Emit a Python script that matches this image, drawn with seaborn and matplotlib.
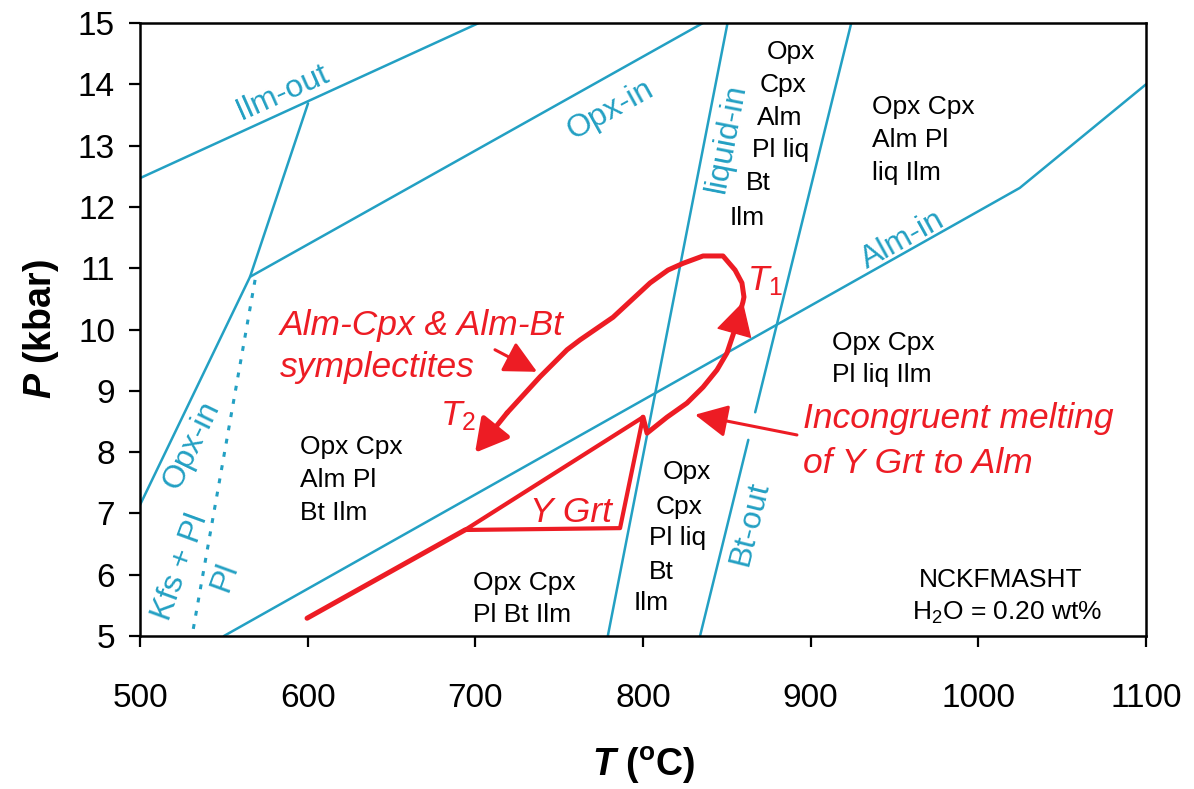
import matplotlib
matplotlib.use('Agg')
import matplotlib.pyplot as plt
import seaborn as sns

BLUE = '#23a0c3'
RED = '#ed1c24'

# phase boundaries, T in degC and P in kbar
ilm_out_T = [500, 702]
ilm_out_P = [12.47, 15.0]
opx_in_up_T = [565.6, 835.7]
opx_in_up_P = [10.86, 15.0]
opx_in_left_T = [500, 565.6, 600.2]
opx_in_left_P = [7.14, 10.86, 13.69]
kfs_T = [568.6, 531.0]
kfs_P = [10.81, 5.0]
alm_in_T = [550, 1024.7, 1100]
alm_in_P = [5.0, 12.31, 14.0]
liq_in_T = [779, 850.4]
liq_in_P = [5.0, 15.0]
bt_out_lo_T = [834, 862.8]
bt_out_lo_P = [5.0, 8.2]
bt_out_hi_T = [866.9, 924.2]
bt_out_hi_P = [8.65, 15.0]

# P-T path
pro_T = [599.6, 693.8]
pro_P = [5.29, 6.73]
ygrt_T = [693.8, 786.3, 800.0, 693.8]
ygrt_P = [6.73, 6.76, 8.57, 6.73]
loop_T = [800.0, 802.4, 814.3, 826.2, 835.8, 844.1, 850.1, 856.1, 859.6, 860.2,
          859.0, 854.9, 847.7, 835.8, 823.9, 814.9, 804.2, 782.1, 762.4, 754.7,
          738.6, 718.9, 699.8]
loop_P = [8.57, 8.31, 8.57, 8.80, 9.06, 9.34, 9.62, 10.11, 10.45, 10.53,
          10.76, 10.97, 11.20, 11.20, 11.08, 10.97, 10.76, 10.20, 9.83, 9.67,
          9.23, 8.64, 7.99]

# assemblage labels (one entry per text line): T, P, text, alignment
field_labels = [
    (888.3, 14.53, 'Opx', 'center'), (883.5, 13.99, 'Cpx', 'center'),
    (881.7, 13.45, 'Alm', 'center'), (882.3, 12.93, 'Pl liq', 'center'),
    (868.6, 12.39, 'Bt', 'center'), (862.0, 11.82, 'Ilm', 'center'),
    (936.6, 13.63, 'Opx Cpx', 'left'), (936.6, 13.09, 'Alm Pl', 'left'),
    (936.6, 12.55, 'liq Ilm', 'left'),
    (912.7, 9.78, 'Opx Cpx', 'left'), (912.7, 9.26, 'Pl liq Ilm', 'left'),
    (595.4, 8.08, 'Opx Cpx', 'left'), (595.4, 7.54, 'Alm Pl', 'left'),
    (595.4, 7.01, 'Bt Ilm', 'left'),
    (698.6, 5.86, 'Opx Cpx', 'left'), (698.6, 5.34, 'Pl Bt Ilm', 'left'),
    (826.2, 7.68, 'Opx', 'center'), (821.5, 7.10, 'Cpx', 'center'),
    (820.3, 6.60, 'Pl liq', 'center'), (810.7, 6.04, 'Bt', 'center'),
    (804.8, 5.54, 'Ilm', 'center'),
    (1013.5, 5.91, 'NCKFMASHT', 'center'), (1017.1, 5.38, 'H$_2$O = 0.20 wt%', 'center'),
]

# boundary names: T, P, text, rotation
line_labels = [
    (584.7, 13.86, 'Ilm-out', 24),
    (780.3, 13.58, 'Opx-in', 29),
    (955.0, 11.46, 'Alm-in', 29),
    (850.0, 13.12, 'liquid-in', 79),
    (863.8, 6.84, 'Bt-out', 76),
    (531.0, 8.12, 'Opx-in', 64),
    (523.9, 6.13, 'Kfs + Pl', 70),
    (550.7, 5.96, 'Pl', 70),
]

# red annotations: T, P (baseline), text
path_labels = [
    (583.5, 9.91, 'Alm-Cpx & Alm-Bt'),
    (583.5, 9.22, 'symplectites'),
    (862.0, 10.64, r'$T_1$'),
    (678.9, 8.44, r'$T_2$'),
    (732.6, 6.86, 'Y Grt'),
    (895.4, 8.39, 'Incongruent melting'),
    (895.4, 7.66, 'of Y Grt to Alm'),
]

sns.set_theme(style='ticks')
plt.rcParams['font.family'] = ['Liberation Sans', 'DejaVu Sans']
plt.rcParams['mathtext.fontset'] = 'custom'
plt.rcParams['mathtext.rm'] = 'Liberation Sans'
plt.rcParams['mathtext.it'] = 'Liberation Sans:italic'
plt.rcParams['mathtext.bf'] = 'Liberation Sans:bold'
plt.rcParams['mathtext.bfit'] = 'Liberation Sans:italic:bold'

fig = plt.figure(figsize=(11.94, 7.89), dpi=100)
ax = fig.add_axes([0.1173, 0.1939, 0.8425, 0.7769])

blue_lines = [(ilm_out_T, ilm_out_P), (opx_in_up_T, opx_in_up_P),
              (opx_in_left_T, opx_in_left_P), (alm_in_T, alm_in_P),
              (liq_in_T, liq_in_P), (bt_out_lo_T, bt_out_lo_P),
              (bt_out_hi_T, bt_out_hi_P)]
for xs, ys in blue_lines:
    sns.lineplot(x=xs, y=ys, sort=False, estimator=None, color=BLUE, lw=1.8, ax=ax)
sns.lineplot(x=kfs_T, y=kfs_P, sort=False, estimator=None, color=BLUE, lw=2.2,
             linestyle=(0, (1.6, 2.8)), ax=ax)

sns.lineplot(x=pro_T, y=pro_P, sort=False, estimator=None, color=RED, lw=3.6, ax=ax)
sns.lineplot(x=ygrt_T, y=ygrt_P, sort=False, estimator=None, color=RED, lw=3.0, ax=ax)
sns.lineplot(x=loop_T[:-1], y=loop_P[:-1], sort=False, estimator=None, color=RED, lw=3.6, ax=ax)
ax.lines[-1].set_solid_joinstyle('round')

# arrowheads on the path
ax.annotate('', xy=(loop_T[-1], loop_P[-1]), xytext=(loop_T[-2], loop_P[-2]),
            arrowprops=dict(arrowstyle='-|>,head_length=0.9,head_width=0.5',
                            color=RED, lw=3.6, mutation_scale=22, shrinkA=0, shrinkB=0))
ax.annotate('', xy=(loop_T[8], loop_P[8]), xytext=(loop_T[7], loop_P[7]),
            arrowprops=dict(arrowstyle='-|>,head_length=1.0,head_width=0.55',
                            color=RED, lw=1, mutation_scale=22, shrinkA=0, shrinkB=0))
# pointer arrows
ax.annotate('', xy=(736.8, 9.31), xytext=(711.7, 9.67),
            arrowprops=dict(arrowstyle='-|>,head_length=1.0,head_width=0.5',
                            color=RED, lw=2.2, mutation_scale=20, shrinkA=0, shrinkB=0))
ax.annotate('', xy=(831.0, 8.61), xytext=(891.8, 8.28),
            arrowprops=dict(arrowstyle='-|>,head_length=1.0,head_width=0.5',
                            color=RED, lw=2.2, mutation_scale=20, shrinkA=0, shrinkB=0))

for t, p, s, ha in field_labels:
    ax.text(t, p, s, ha=ha, va='center', fontsize=19, color='black')
for t, p, s, rot in line_labels:
    ax.text(t, p, s, ha='center', va='center', rotation=rot, fontsize=23,
            color=BLUE, rotation_mode='anchor')
for t, p, s in path_labels:
    ax.text(t, p, s, ha='left', va='baseline', fontsize=25.5, color=RED, style='italic')

ax.set_xlim(500, 1100)
ax.set_ylim(5, 15)
ax.set_xticks(range(500, 1101, 100))
ax.set_yticks(range(5, 16))
ax.tick_params(axis='both', direction='out', length=8, width=1.6, labelsize=24, colors='black')
ax.tick_params(axis='x', pad=26)
ax.tick_params(axis='y', pad=10)
for sp in ax.spines.values():
    sp.set_visible(True)
    sp.set_linewidth(1.8)
    sp.set_color('black')
ax.set_xlabel(r'$\mathbfit{T}$ ($^{\mathbf{o}}$C)', fontsize=27, fontweight='bold',
              labelpad=22, color='black')
ax.set_ylabel(r'$\mathbfit{P}$ (kbar)', fontsize=27, fontweight='bold',
              labelpad=12, color='black')

fig.savefig('out.png', dpi=100)
